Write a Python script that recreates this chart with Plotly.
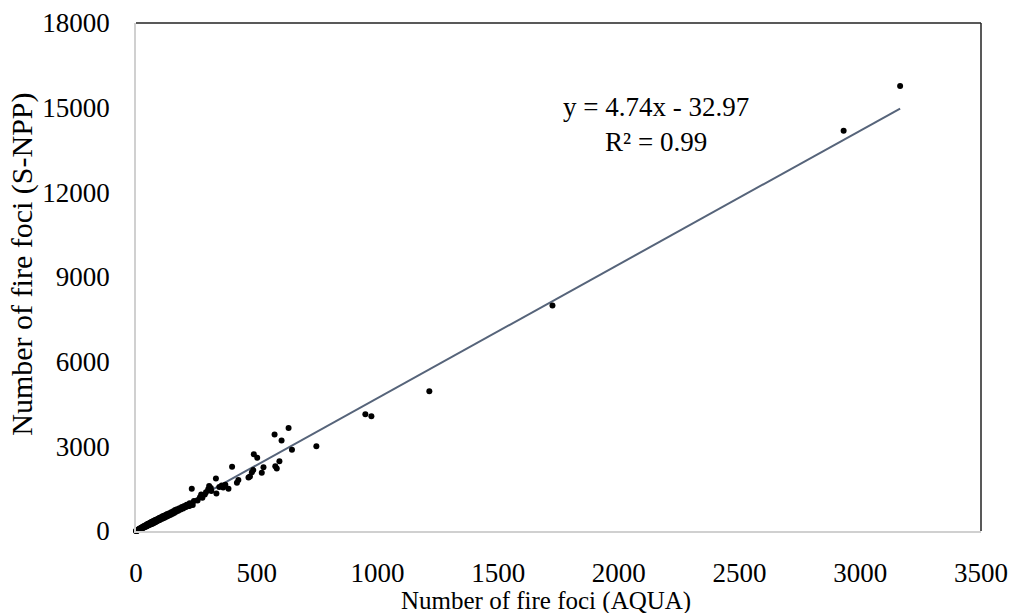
import plotly.graph_objects as go

# Number of fire foci detected by AQUA (x) and S-NPP (y)
aqua = [0, 1, 2, 3, 4, 5, 6, 8, 9, 10, 12, 13, 15, 16, 18, 20, 21, 23, 25, 27, 28, 30,
        32, 34, 35, 38, 40, 42, 44, 46, 48, 50, 52, 55, 57, 60, 62, 64, 66, 68, 70, 72,
        75, 78, 80, 82, 85, 88, 90, 93, 95, 98, 100, 104, 108, 110, 113, 116, 120, 124,
        128, 130, 134, 138, 142, 146, 150, 154, 158, 162, 166, 170, 175, 180, 185, 190,
        195, 200, 205, 210, 215, 222, 228, 240, 255, 265, 275, 285,
        270, 290, 312, 345, 355, 370,
        231, 221, 235, 303, 299, 310, 333, 361, 383, 331, 398, 424, 418, 466, 472, 486,
        480, 521, 528, 577, 583, 594, 502, 488, 646, 603, 574, 632, 747, 950, 975, 1215,
        1725, 2931, 3165]
snpp = [0, 12, 3, 22, 10, 30, 14, 45, 25, 55, 35, 70, 50, 85, 60, 105, 75, 120, 90, 140, 105, 160,
        120, 175, 135, 195, 150, 215, 170, 240, 190, 260, 205, 275, 225, 300, 240, 320, 255, 340, 270, 355,
        295, 380, 310, 400, 335, 420, 360, 440, 380, 470, 400, 490, 430, 520, 455, 540, 480, 575,
        510, 600, 540, 630, 570, 660, 600, 700, 640, 740, 680, 770, 720, 810, 760, 850,
        800, 890, 840, 930, 880, 980, 940, 1060, 1080, 1200, 1180, 1290,
        1290, 1370, 1420, 1560, 1610, 1640,
        1496, 884, 919, 1591, 1475, 1520, 1333, 1545, 1496, 1863, 2274, 1803, 1708, 1899, 1930, 2157,
        2086, 2062, 2263, 2298, 2217, 2475, 2592, 2723, 2875, 3207, 3420, 3653, 3006, 4137, 4067, 4951,
        7992, 14180, 15770]

# Linear trendline reported on the chart
slope = 4.74
intercept = -32.97
r2 = 0.99
x_ticks = [0, 500, 1000, 1500, 2000, 2500, 3000, 3500]
y_ticks = [0, 3000, 6000, 9000, 12000, 15000, 18000]
x_title = "Number of fire foci (AQUA)"
y_title = "Number of fire foci (S-NPP)"

FONT = "Liberation Serif"

fig = go.Figure()
x_end = max(aqua)
fig.add_trace(go.Scatter(
    x=[0, x_end], y=[intercept, slope * x_end + intercept],
    mode="lines", line=dict(color="#56647a", width=2), hoverinfo="skip", showlegend=False))
fig.add_trace(go.Scatter(
    x=aqua, y=snpp, mode="markers", cliponaxis=False,
    marker=dict(color="black", size=6), showlegend=False))

fig.add_annotation(x=0.615, y=0.801, xref="paper", yref="paper",
                   xanchor="center", yanchor="middle",
                   text=f"y = {slope}x - {abs(intercept)}<br>R² = {r2}",
                   showarrow=False, align="center",
                   font=dict(family=FONT, size=27, color="black"))
fig.add_annotation(x=0.485, y=-0.137, xref="paper", yref="paper",
                   xanchor="center", yanchor="middle", text=x_title, showarrow=False,
                   font=dict(family=FONT, size=25, color="black"))
fig.add_annotation(x=-0.135, y=0.526, xref="paper", yref="paper", textangle=-90,
                   xanchor="center", yanchor="middle", text=y_title, showarrow=False,
                   font=dict(family=FONT, size=30, color="black"))

fig.update_layout(
    width=1013, height=613,
    margin=dict(l=136, r=32, t=23, b=82),
    paper_bgcolor="white", plot_bgcolor="white",
    font=dict(family=FONT, color="black"),
    shapes=[
        dict(type="line", xref="paper", yref="paper", x0=0, x1=1, y0=1, y1=1,
             line=dict(color="#222222", width=1.5)),
        dict(type="line", xref="paper", yref="paper", x0=1, x1=1, y0=0, y1=1,
             line=dict(color="#222222", width=1.5)),
    ],
)
fig.update_xaxes(
    range=[0, 3500], tickvals=x_ticks, ticktext=[str(v) for v in x_ticks],
    showgrid=False, zeroline=False, showline=True, linecolor="#d0d0d0", linewidth=1.5,
    ticks="", ticklabelstandoff=17, automargin=False,
    tickfont=dict(family=FONT, size=27, color="black"))
fig.update_yaxes(
    range=[0, 18000], tickvals=y_ticks, ticktext=[str(v) for v in y_ticks],
    showgrid=False, zeroline=False, showline=True, linecolor="#d0d0d0", linewidth=1.5,
    ticks="", ticklabelstandoff=19, automargin=False,
    tickfont=dict(family=FONT, size=27, color="black"))

fig.write_html("out.html", config={"displayModeBar": False},
               post_script="document.body.style.margin='0';document.body.style.overflow='hidden';")
